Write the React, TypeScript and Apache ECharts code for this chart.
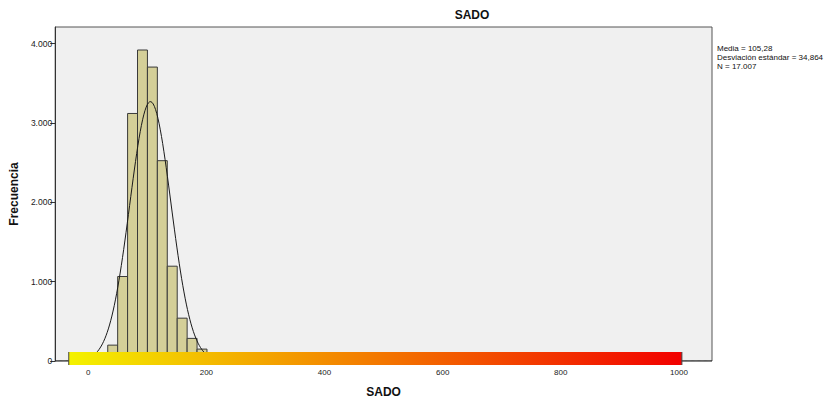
import React, { useEffect, useRef } from "react";
import * as echarts from "echarts";

// Histogram bins of SADO (bin edges) and their frequencies
const binEdges = [33, 49.8, 66.6, 83.4, 100.2, 117, 133.8, 150.6, 167.4, 184.2, 201];
const binCounts = [200, 1065, 3120, 3920, 3705, 2525, 1195, 540, 285, 150];

// Summary statistics shown in the side panel
const statMean = 105.28;
const statSd = 34.864;
const statN = 17007;
const statLines = ["Media = 105,28", "Desviación estándar = 34,864", "N = 17.007"];

// Axis ranges and tick labels
const xRange = [-56, 1056];
const xTickValues = [0, 200, 400, 600, 800, 1000];
const yRange = [0, 4210];
const yTickStep = 1000;

// Extent of the colour scale strip along the x axis
const colorScaleExtent = [-33, 1005];

const FONT = "'Liberation Sans', Arial, sans-serif";

function formatThousands(v: number): string {
  const s = Math.round(v).toString();
  return s.replace(/\B(?=(\d{3})+(?!\d))/g, ".");
}

export default function App() {
  const ref = useRef<HTMLDivElement>(null);

  useEffect(() => {
    if (!ref.current) return;
    const chart = echarts.init(ref.current, undefined, { renderer: "svg" });

    const bins = binCounts.map((c, i) => [binEdges[i], binEdges[i + 1], c]);

    // Fitted normal curve scaled to the histogram (N * bin width)
    const binWidth = binEdges[1] - binEdges[0];
    const scale = (statN * binWidth) / (statSd * Math.sqrt(2 * Math.PI));
    const curve: number[][] = [];
    for (let x = xRange[0]; x <= xRange[1]; x += 2) {
      const z = (x - statMean) / statSd;
      curve.push([x, scale * Math.exp(-0.5 * z * z)]);
    }

    chart.setOption({
      animation: false,
      backgroundColor: "#ffffff",
      grid: {
        left: 53,
        right: 115,
        top: 27,
        bottom: 38,
        show: true,
        backgroundColor: "#f0f0f0",
        borderColor: "#555555",
        borderWidth: 1,
      },
      graphic: [
        {
          type: "text",
          x: 472,
          y: 15,
          style: {
            text: "SADO",
            font: `bold 12px ${FONT}`,
            fill: "#111",
            align: "center",
            verticalAlign: "middle",
          },
        },
        {
          type: "text",
          x: 717,
          y: 44,
          style: {
            text: statLines.join("\n"),
            font: `8px ${FONT}`,
            lineHeight: 9,
            fill: "#111",
            align: "left",
            verticalAlign: "top",
          },
        },
      ],
      xAxis: {
        type: "value",
        min: xRange[0],
        max: xRange[1],
        name: "SADO",
        nameLocation: "middle",
        nameGap: 25,
        nameTextStyle: { fontFamily: FONT, fontWeight: "bold", fontSize: 12, color: "#111" },
        axisLine: { show: false },
        axisTick: { show: false },
        splitLine: { show: false },
        axisLabel: {
          customValues: xTickValues,
          formatter: (v: number) => String(v),
          fontFamily: FONT,
          fontSize: 8,
          color: "#1a1a1a",
          margin: 7,
        },
      },
      yAxis: {
        type: "value",
        min: yRange[0],
        max: yRange[1],
        interval: yTickStep,
        name: "Frecuencia",
        nameLocation: "middle",
        nameGap: 25,
        nameTextStyle: { fontFamily: FONT, fontWeight: "bold", fontSize: 12, color: "#111" },
        axisLine: { show: true, onZero: false, lineStyle: { color: "#333", width: 1 } },
        axisTick: { show: true, length: 5, lineStyle: { color: "#333" } },
        splitLine: { show: false },
        axisLabel: {
          fontFamily: FONT,
          fontSize: 8.5,
          color: "#1a1a1a",
          margin: 3,
          formatter: (v: number) => formatThousands(v),
          showMaxLabel: false,
        },
      },
      series: [
        {
          type: "custom",
          name: "Frecuencia",
          data: bins,
          z: 2,
          renderItem: (params: any, api: any) => {
            const p0 = api.coord([api.value(0), api.value(2)]);
            const p1 = api.coord([api.value(1), 0]);
            return {
              type: "rect",
              shape: { x: p0[0], y: p0[1], width: p1[0] - p0[0], height: p1[1] - p0[1] },
              style: { fill: "#d4cf98", stroke: "#3a3a3a", lineWidth: 1 },
            };
          },
        },
        {
          type: "line",
          data: curve,
          z: 3,
          symbol: "none",
          smooth: false,
          lineStyle: { color: "#1a1a1a", width: 1 },
        },
        {
          type: "custom",
          data: [colorScaleExtent],
          z: 5,
          clip: false,
          renderItem: (params: any, api: any) => {
            const a = api.coord([api.value(0), 0]);
            const b = api.coord([api.value(1), 0]);
            const top = a[1] - 9;
            const h = 13;
            return {
              type: "group",
              children: [
                {
                  type: "rect",
                  shape: { x: a[0], y: top, width: b[0] - a[0], height: h },
                  style: {
                    fill: new echarts.graphic.LinearGradient(0, 0, 1, 0, [
                      { offset: 0, color: "#f4f200" },
                      { offset: 1, color: "#f20000" },
                    ]),
                  },
                },
                {
                  type: "line",
                  shape: { x1: a[0], y1: top, x2: a[0], y2: top + h },
                  style: { stroke: "#444", lineWidth: 1 },
                },
                {
                  type: "line",
                  shape: { x1: b[0], y1: top, x2: b[0], y2: top + h },
                  style: { stroke: "#444", lineWidth: 1 },
                },
              ],
            };
          },
        },
      ],
    });

    return () => chart.dispose();
  }, []);

  return (
    <div
      ref={ref}
      style={{ position: "absolute", left: 0, top: 0, width: 827, height: 403, background: "#fff" }}
    />
  );
}
